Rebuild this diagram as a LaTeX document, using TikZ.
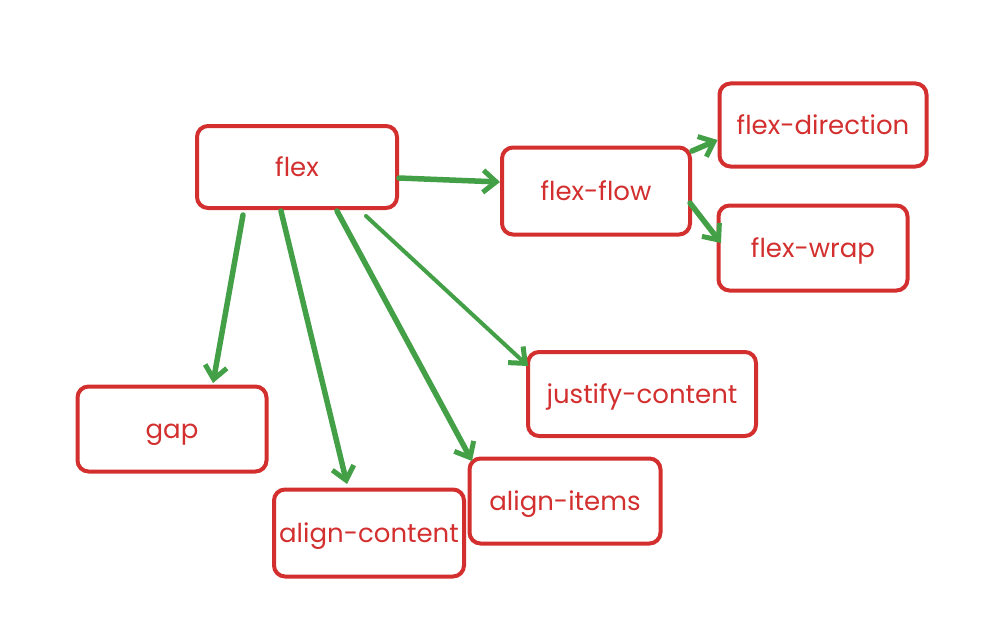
\documentclass[tikz,border=0pt]{standalone}
\usepackage{fontspec}
\setmainfont{Poppins}
\usetikzlibrary{arrows.meta}
\definecolor{boxred}{RGB}{211,47,47}
\definecolor{argreen}{RGB}{67,160,71}
\tikzset{
  box/.style={draw=boxred, line width=4pt, rounded corners=11pt, fill=white,
    text=boxred, font=\fontsize{26}{30}\selectfont, inner sep=0pt,
    text height=22pt, text depth=3pt},
  conn/.style={draw=argreen, line width=5.5pt, line cap=round,
    -{Straight Barb[length=13pt, width=22pt, line width=5pt]}},
  connthin/.style={conn, line width=4pt}
}
\begin{document}
\begin{tikzpicture}[x=1pt,y=-1pt]
\useasboundingbox (0,0) rectangle (1007,626);
\node[box, minimum width=200pt, minimum height=82pt] (flex) at (297,167) {flex};
\node[box, minimum width=188pt, minimum height=87pt] (flow) at (596,191) {flex-flow};
\node[box, minimum width=207pt, minimum height=83pt] (dir) at (823,125) {flex-direction};
\node[box, minimum width=189pt, minimum height=85pt] (wrap) at (813,248) {flex-wrap};
\node[box, minimum width=228pt, minimum height=84pt] (just) at (642,394) {justify-content};
\node[box, minimum width=189pt, minimum height=85pt] (gap) at (172,429) {gap};
\node[box, minimum width=190pt, minimum height=87pt] (acont) at (369,533) {align-content};
\node[box, minimum width=191pt, minimum height=85pt] (aitems) at (565,501) {align-items};
\coordinate (f1) at (399,178);
\coordinate (f2) at (243,215);
\coordinate (f3) at (281,211);
\coordinate (f4) at (337,211);
\coordinate (f5) at (366,216);
\coordinate (fl1) at (692,151);
\coordinate (fl2) at (690,203);
\draw[conn] (f1) -- (flow.west |- 0,182);
\draw[conn] (f2) -- (213,383);
\draw[conn] (f3) -- (347,484);
\draw[conn] (f4) -- (472,461);
\draw[connthin] (f5) -- (528,366);
\draw[conn] (fl1) -- (dir.west |- 0,140);
\draw[conn] (fl2) -- (721,243);
\end{tikzpicture}
\end{document}
